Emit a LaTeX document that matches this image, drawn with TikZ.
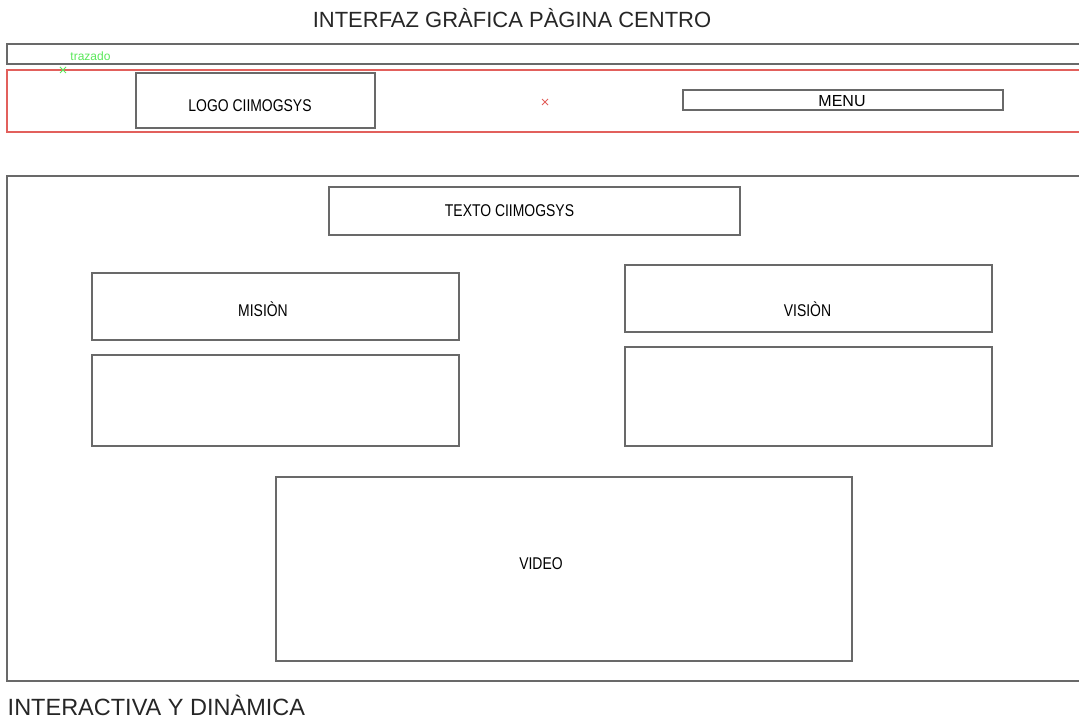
\documentclass[tikz,border=0pt]{standalone}
\usepackage{fontspec}
\setmainfont{Liberation Sans}
\newfontfamily\lblfont[FakeStretch=0.82]{Liberation Sans}
\usepackage{tikz}
\usetikzlibrary{positioning}
\definecolor{framegray}{RGB}{105,105,105}
\definecolor{framered}{RGB}{226,96,92}
\definecolor{tracegreen}{RGB}{90,232,90}

\begin{document}
\begin{tikzpicture}[
    x=1pt, y=-1pt, line width=1.5pt,
    box/.style={draw=framegray, rectangle, inner sep=0pt},
    lbl/.style={anchor=base, inner sep=0pt, font=\lblfont\fontsize{17}{20}\selectfont},
    heading/.style={anchor=base, inner sep=0pt, font=\fontsize{22}{26}\selectfont, text=black!85}
]
\useasboundingbox (0,0) rectangle (1079,722);

\node[heading] (title) at (512,28) {INTERFAZ GRÀFICA PÀGINA CENTRO};

% open frames running past the right edge
\draw[framegray] (1085,44) -| (7,64) -- (1085,64);
\draw[framered] (1085,70) -| (7,132) -- (1085,132);
\draw[framegray] (1085,176) -| (7,681) -- (1085,681);

\node[anchor=base, inner sep=0pt, text=tracegreen, font=\fontsize{12}{14}\selectfont] (trazado) at (90.5,61) {trazado};
\coordinate (greenmark) at (63,70);
\draw[tracegreen, line width=1pt] ([shift={(-3,-3)}]greenmark) -- ([shift={(3,3)}]greenmark) ([shift={(-3,3)}]greenmark) -- ([shift={(3,-3)}]greenmark);
\coordinate (redmark) at (545,102);
\draw[framered, line width=1pt] ([shift={(-3,-3)}]redmark) -- ([shift={(3,3)}]redmark) ([shift={(-3,3)}]redmark) -- ([shift={(3,-3)}]redmark);

\node[box, minimum width=239, minimum height=55] (logo) at (255.5,100.5) {};
\node[lbl] (logo_text) at (250,112) {LOGO CIIMOGSYS};
\node[box, minimum width=320, minimum height=20] (menu) at (843,100) {};
\node[anchor=base, inner sep=0pt, font=\fontsize{16}{18}\selectfont] (menu_text) at (842,107) {MENU};

\node[box, minimum width=411, minimum height=48] (texto) at (534.5,211) {};
\node[lbl] (texto_text) at (509.5,217) {TEXTO CIIMOGSYS};

\node[box, minimum width=367, minimum height=67] (mision) at (275.5,306.5) {};
\node[lbl] (mision_text) at (263,316) {MISIÒN};
\node[box, minimum width=367, minimum height=91] (mision_body) at (275.5,400.5) {};

\node[box, minimum width=367, minimum height=67] (vision) at (808.5,298.5) {};
\node[lbl] (vision_text) at (807.5,316) {VISIÒN};
\node[box, minimum width=367, minimum height=99] (vision_body) at (808.5,396.5) {};

\node[box, minimum width=576, minimum height=184] (video) at (564,569) {};
\node[lbl] (video_text) at (541,569) {VIDEO};

\node[heading, anchor=base west, font=\fontsize{23.5}{27}\selectfont] (footer) at (7,715) {INTERACTIVA Y DINÀMICA};
\end{tikzpicture}
\end{document}
